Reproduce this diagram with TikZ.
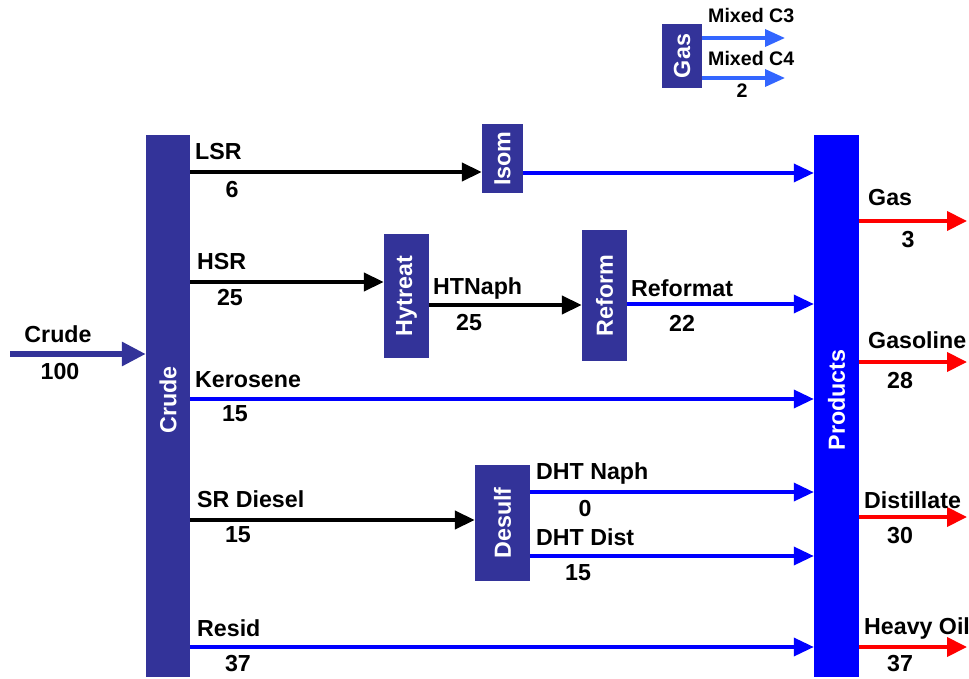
\documentclass[tikz,border=0pt]{standalone}
\usepackage{fontspec}
\setmainfont{Liberation Sans}
\usetikzlibrary{arrows.meta}
\definecolor{dkblue}{HTML}{333399}
\definecolor{pblue}{HTML}{0000FF}
\definecolor{ltblue}{HTML}{3366FF}
\definecolor{pred}{HTML}{FF0000}
\tikzset{
  box/.style={draw=none, fill=dkblue, inner sep=0pt},
  boxtext/.style={text=white, font=\bfseries\fontsize{23.3}{23.3}\selectfont, rotate=90, inner sep=0pt},
  lbl/.style={font=\bfseries\fontsize{23.2}{23.2}\selectfont, inner sep=0pt, anchor=west},
  num/.style={font=\bfseries\fontsize{23.2}{23.2}\selectfont, inner sep=0pt},
  small/.style={font=\bfseries\fontsize{19.6}{19.6}\selectfont, inner sep=0pt},
  blkarr/.style={draw=black, line width=4pt, -{Triangle[length=20pt,width=18pt]}},
  bluarr/.style={draw=pblue, line width=3.5pt, -{Triangle[length=20pt,width=18pt]}},
  redarr/.style={draw=pred, line width=4pt, -{Triangle[length=20pt,width=19pt]}},
  ltarr/.style={draw=ltblue, line width=3.5pt, -{Triangle[length=20pt,width=17pt]}},
}
\begin{document}
\begin{tikzpicture}[x=1pt,y=-1pt]
\useasboundingbox (0,0) rectangle (969,679);
\clip (0,0) rectangle (969,679);
% boxes
\node[box, minimum width=44pt, minimum height=542pt] (crude) at (168,406) {};
\node[boxtext] (crudet) at (168,400) {Crude};
\node[box, fill=pblue, minimum width=45pt, minimum height=542pt] (prod) at (836.5,406) {};
\node[boxtext] (prodt) at (836.5,400) {Products};
\node[box, minimum width=40pt, minimum height=64pt] (gas) at (682,56) {};
\node[boxtext] (gast) at (682,56) {Gas};
\node[box, minimum width=41pt, minimum height=69pt] (isom) at (502.5,158.5) {};
\node[boxtext] (isomt) at (502.5,158.5) {Isom};
\node[box, minimum width=45pt, minimum height=124pt] (hyt) at (406.5,296) {};
\node[boxtext] (hytt) at (406.5,296) {Hytreat};
\node[box, minimum width=45pt, minimum height=131pt] (ref) at (604.5,295.5) {};
\node[boxtext] (reft) at (604.5,295.5) {Reform};
\node[box, minimum width=55pt, minimum height=116pt] (des) at (502.5,523) {};
\node[boxtext] (dest) at (502.5,523) {Desulf};
% coordinates
\coordinate (cin) at (10,354);
\coordinate (o1) at (967,221);
\coordinate (o2) at (967,362);
\coordinate (o3) at (967,517);
\coordinate (o4) at (967,647);
\coordinate (m1) at (785,38);
\coordinate (m2) at (785,78);
% crude input
\draw[draw=dkblue, line width=6pt, -{Triangle[length=24pt,width=23pt]}] (cin) -- (crude.west |- cin);
\node[num] at (58,334) {Crude};
\node[num] at (60,372) {100};
% gas top
\draw[ltarr] (gas.east |- m1) -- (m1);
\draw[ltarr] (gas.east |- m2) -- (m2);
\node[small, anchor=west] at (708,16) {Mixed C3};
\node[small, anchor=west] at (708,58) {Mixed C4};
\node[small] at (742,91) {2};
% LSR
\draw[blkarr] (crude.east |- 0,172) -- (isom.west |- 0,172);
\draw[bluarr] (isom.east |- 0,173) -- (prod.west |- 0,173);
\node[lbl] at (195,152) {LSR};
\node[num] at (232,190) {6};
% HSR
\draw[blkarr] (crude.east |- 0,282) -- (hyt.west |- 0,282);
\node[lbl] at (197,262) {HSR};
\node[num] at (230,298) {25};
\draw[blkarr] (hyt.east |- 0,305) -- (ref.west |- 0,305);
\node[lbl] at (433,289) {HTNaph};
\node[num] at (469,323) {25};
\draw[bluarr] (ref.east |- 0,304) -- (prod.west |- 0,304);
\node[lbl] at (631,288) {Reformat};
\node[num] at (682,323) {22};
% Kerosene
\draw[bluarr] (crude.east |- 0,399) -- (prod.west |- 0,399);
\node[lbl] at (195,380) {Kerosene};
\node[num] at (235,414) {15};
% SR Diesel
\draw[blkarr] (crude.east |- 0,520) -- (des.west |- 0,520);
\node[lbl] at (197,499) {SR Diesel};
\node[num] at (238,535) {15};
\draw[bluarr] (des.east |- 0,492) -- (prod.west |- 0,492);
\node[lbl] at (536,473) {DHT Naph};
\node[num] at (585,509) {0};
\draw[bluarr] (des.east |- 0,556) -- (prod.west |- 0,556);
\node[lbl] at (536,537) {DHT Dist};
\node[num] at (578,573) {15};
% Resid
\draw[bluarr] (crude.east |- 0,647) -- (prod.west |- 0,647);
\node[lbl] at (197,628) {Resid};
\node[num] at (238,664) {37};
% outputs
\draw[redarr] (prod.east |- o1) -- (o1);
\node[lbl] at (868,198) {Gas};
\node[num] at (908,240) {3};
\draw[redarr] (prod.east |- o2) -- (o2);
\node[lbl] at (868,340) {Gasoline};
\node[num] at (900,381) {28};
\draw[redarr] (prod.east |- o3) -- (o3);
\node[lbl] at (864,500) {Distillate};
\node[num] at (900,536) {30};
\draw[redarr] (prod.east |- o4) -- (o4);
\node[lbl] at (864,628) {Heavy Oil};
\node[num] at (900,664) {37};
\end{tikzpicture}
\end{document}
